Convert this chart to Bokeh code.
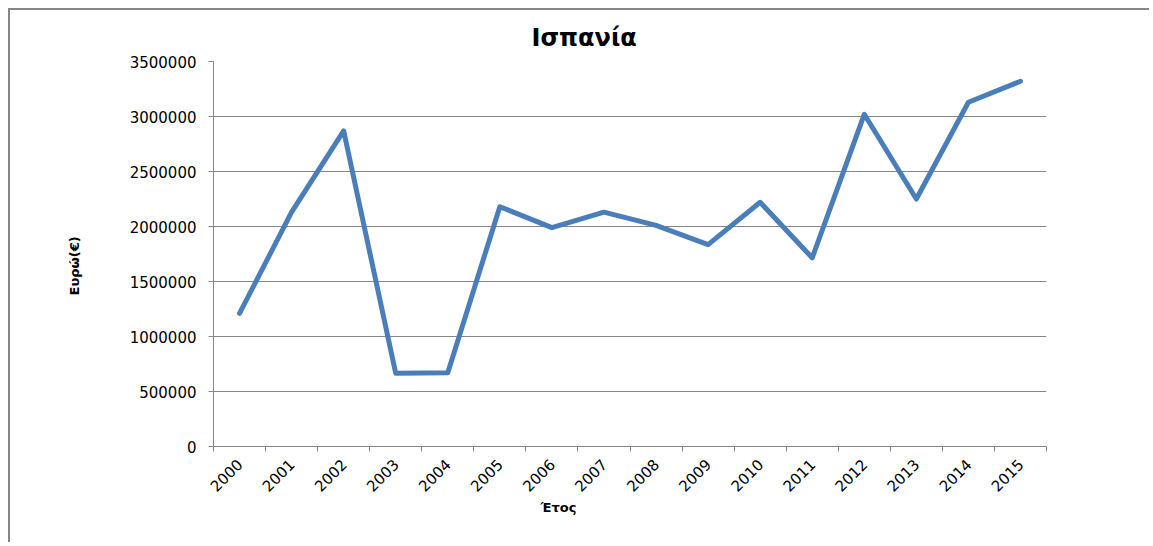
import math
from bokeh.plotting import figure
from bokeh.models import FixedTicker, Title, Range1d, BasicTickFormatter
from bokeh.embed import file_html
from bokeh.resources import INLINE

years = list(range(2000, 2016))
values = [1210000, 2130000, 2870000, 665000, 670000, 2180000, 1990000, 2130000,
          2010000, 1835000, 2220000, 1715000, 3020000, 2250000, 3130000, 3320000]
y_ticks = [0, 500000, 1000000, 1500000, 2000000, 2500000, 3000000, 3500000]
title_text = "Ισπανία"
x_label = "Έτος"
y_label = "Ευρώ(€)"

GRAY = "#868686"
BLUE = "#4A7EBB"
FONT = "DejaVu Sans"

p = figure(width=1141, height=534, output_backend="svg", toolbar_location=None,
           x_range=Range1d(years[0] - 0.5, years[-1] + 0.5),
           y_range=Range1d(y_ticks[0], y_ticks[-1]),
           min_border_left=203, min_border_right=105, min_border_top=51, min_border_bottom=98)
p.styles = {"border-left": "2px solid " + GRAY, "border-top": "2px solid " + GRAY,
            "margin-left": "8px", "margin-top": "8px"}
p.outline_line_color = None
p.background_fill_color = "white"
p.border_fill_color = "white"

p.line(years, values, line_color=BLUE, line_width=5, line_join="round", line_cap="round")

t = Title(text=title_text, align="left", offset=318, text_font=FONT, text_font_size="24px",
          text_font_style="bold", text_color="black", standoff=20)
p.add_layout(t, "above")

xt = Title(text=x_label, align="left", offset=327, text_font=FONT, text_font_size="13px",
           text_font_style="bold", text_color="black", standoff=-3)
p.add_layout(xt, "below")

yt = Title(text=y_label, align="left", offset=151, text_font=FONT, text_font_size="13px",
           text_font_style="bold", text_color="black", standoff=90)
p.add_layout(yt, "left")

p.xgrid.visible = False
p.ygrid.grid_line_color = GRAY
p.ygrid.grid_line_width = 1

yax = p.yaxis[0]
yax.ticker = FixedTicker(ticks=y_ticks)
yax.formatter = BasicTickFormatter(use_scientific=False)
yax.axis_line_color = GRAY
yax.major_tick_line_color = GRAY
yax.major_tick_in = 0
yax.major_tick_out = 5
yax.minor_tick_line_color = None
yax.major_label_text_font = FONT
yax.major_label_text_font_size = "15px"
yax.major_label_text_color = "black"
yax.major_label_standoff = 12

xax = p.xaxis[0]
xax.ticker = FixedTicker(ticks=years, minor_ticks=[y - 0.5 for y in years] + [years[-1] + 0.5])
xax.formatter = BasicTickFormatter(use_scientific=False)
xax.axis_line_color = GRAY
xax.major_tick_in = 0
xax.major_tick_out = 0
xax.minor_tick_in = 0
xax.minor_tick_out = 5
xax.minor_tick_line_color = GRAY
xax.major_label_orientation = math.pi / 4
xax.major_label_text_font = FONT
xax.major_label_text_font_size = "15px"
xax.major_label_text_color = "black"
xax.major_label_standoff = 10

open("out.html", "w").write(file_html(p, INLINE))
